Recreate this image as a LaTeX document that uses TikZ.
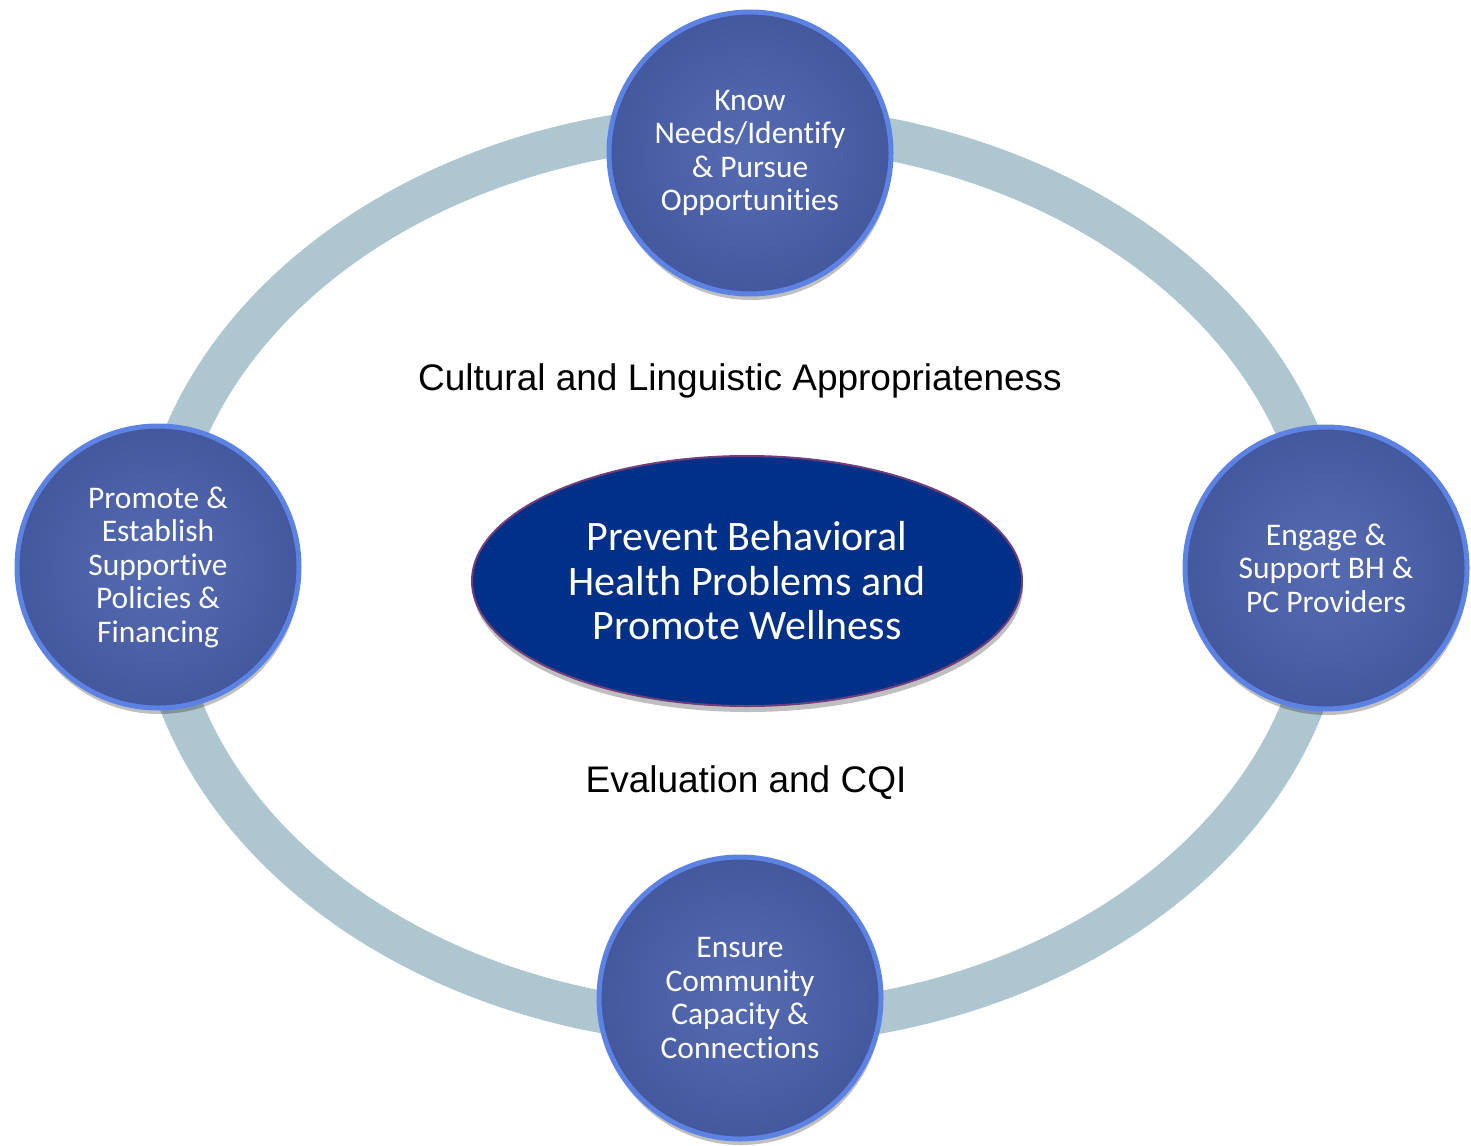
\documentclass[tikz,border=0pt]{standalone}
\usepackage{fontspec}
\setmainfont{Carlito}[Ligatures=NoCommon]
\newfontfamily\themefont{Liberation Sans}
\usetikzlibrary{shapes.geometric}
\usetikzlibrary{shadows}
\definecolor{ringblue}{RGB}{173,198,207}
\definecolor{stagelight}{RGB}{86,108,178}
\definecolor{stagemid}{RGB}{70,90,160}
\definecolor{stagedark}{RGB}{50,70,140}
\definecolor{stageborder}{RGB}{92,130,228}
\definecolor{hubfill}{RGB}{0,48,135}
\definecolor{hubborder}{RGB}{112,62,122}
\pgfdeclareradialshading{stage shading}{\pgfpoint{0bp}{0bp}}{color(0bp)=(stagelight); color(22bp)=(stagemid); color(50bp)=(stagedark)}
\tikzstyle{ring}=[draw=ringblue, line width=42pt]
\tikzstyle{stage}=[circle, minimum size=282pt, inner sep=0pt, line width=5pt, draw=stageborder, shade, shading=stage shading, text=white, align=center, font=\fontsize{31.5}{33.5}\selectfont, drop shadow={shadow xshift=1pt, shadow yshift=-6pt, opacity=0.25, fill=black}]
\tikzstyle{hub}=[ellipse, minimum width=550pt, minimum height=250pt, inner sep=0pt, line width=2pt, draw=hubborder, fill=hubfill, text=white, align=center, font=\fontsize{42}{44.5}\selectfont, drop shadow={shadow xshift=1pt, shadow yshift=-6pt, opacity=0.25, fill=black}]
\tikzstyle{theme}=[anchor=base, inner sep=0pt, font=\themefont\fontsize{37}{40}\selectfont]

\begin{document}
\begin{tikzpicture}[x=1pt, y=-1pt]
  \useasboundingbox (0,0) rectangle (1471,1145);
  \coordinate (loop) at (742,575);
  \draw[ring] (loop) ellipse [x radius=586, y radius=450];

  \node[hub] (goal) at (747,581) {Prevent Behavioral\\Health Problems and\\Promote Wellness};

  \node[stage] (needs) at (750,153) {Know\\Needs/Identify\\\& Pursue\\Opportunities};
  \node[stage] (policies) at (158,567) {Promote \&\\Establish\\Supportive\\Policies \&\\Financing};
  \node[stage] (providers) at (1326,568) {Engage \&\\Support BH \&\\PC Providers};
  \node[stage] (community) at (740,998) {Ensure\\Community\\Capacity \&\\Connections};

  \node[theme] (culture) at (740,390) {Cultural and Linguistic Appropriateness};
  \node[theme] (evaluation) at (746,792) {Evaluation and CQI};
\end{tikzpicture}
\end{document}
